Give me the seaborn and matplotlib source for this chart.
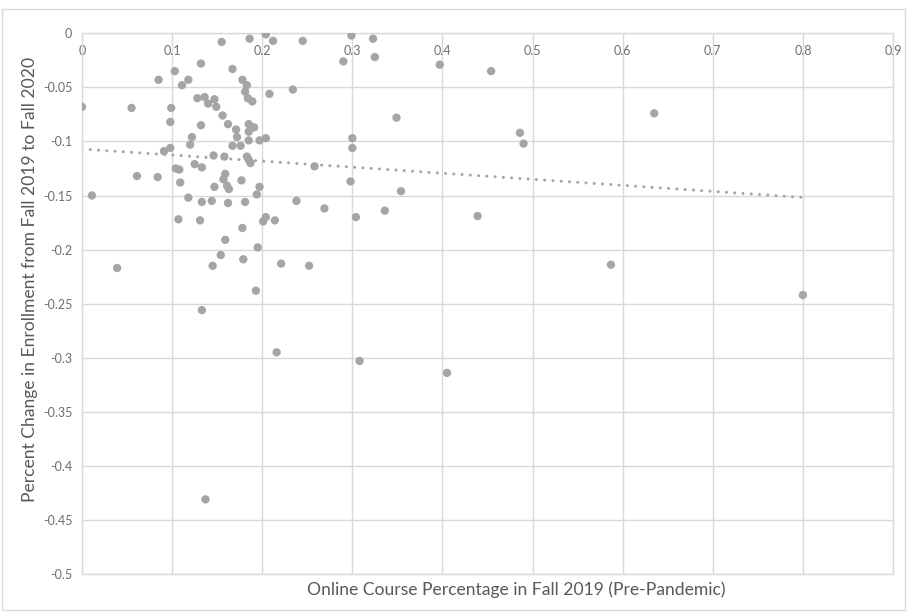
import matplotlib
matplotlib.use('Agg')
import matplotlib.pyplot as plt
import seaborn as sns
import pandas as pd
import numpy as np
from matplotlib.patches import Rectangle

# Values
online_pct = [
    0.000, 0.011, 0.039, 0.055, 0.061, 0.084, 0.085, 0.091, 0.098, 0.098,
    0.099, 0.103, 0.104, 0.108, 0.107, 0.109, 0.111, 0.118, 0.118, 0.122,
    0.120, 0.125, 0.128, 0.132, 0.132, 0.133, 0.133, 0.131, 0.136, 0.140,
    0.144, 0.146, 0.147, 0.147, 0.149, 0.155, 0.156, 0.158, 0.159, 0.157,
    0.161, 0.163, 0.162, 0.162, 0.167, 0.171, 0.172, 0.167, 0.176, 0.177,
    0.178, 0.181, 0.181, 0.183, 0.184, 0.186, 0.185, 0.185, 0.191, 0.185,
    0.189, 0.183, 0.185, 0.187, 0.194, 0.197, 0.197, 0.204, 0.204, 0.208,
    0.212, 0.234, 0.238, 0.245, 0.204, 0.201, 0.214, 0.178, 0.159, 0.195,
    0.154, 0.179, 0.145, 0.221, 0.193, 0.133, 0.216, 0.252, 0.299, 0.323,
    0.290, 0.325, 0.397, 0.454, 0.349, 0.486, 0.490, 0.300, 0.300, 0.258,
    0.298, 0.354, 0.269, 0.304, 0.336, 0.439, 0.308, 0.405, 0.635, 0.587,
    0.800, 0.137,
]
enroll_change = [
    -0.068, -0.150, -0.217, -0.069, -0.132, -0.133, -0.043, -0.109, -0.106, -0.082,
    -0.069, -0.035, -0.125, -0.126, -0.172, -0.138, -0.048, -0.043, -0.152, -0.096,
    -0.103, -0.121, -0.060, -0.028, -0.085, -0.124, -0.156, -0.173, -0.059, -0.065,
    -0.155, -0.113, -0.061, -0.142, -0.068, -0.008, -0.076, -0.114, -0.130, -0.135,
    -0.141, -0.144, -0.084, -0.157, -0.033, -0.089, -0.096, -0.104, -0.104, -0.136,
    -0.043, -0.156, -0.054, -0.048, -0.060, -0.005, -0.084, -0.091, -0.087, -0.099,
    -0.063, -0.114, -0.117, -0.120, -0.149, -0.142, -0.099, -0.097, -0.001, -0.056,
    -0.007, -0.052, -0.155, -0.007, -0.170, -0.174, -0.173, -0.180, -0.191, -0.198,
    -0.205, -0.209, -0.215, -0.213, -0.238, -0.256, -0.295, -0.215, -0.002, -0.005,
    -0.026, -0.022, -0.029, -0.035, -0.078, -0.092, -0.102, -0.097, -0.106, -0.123,
    -0.137, -0.146, -0.162, -0.170, -0.164, -0.169, -0.303, -0.314, -0.074, -0.214,
    -0.242, -0.431,
]

x_ticks = np.round(np.arange(0, 0.91, 0.1), 1)
y_ticks = np.round(np.arange(-0.5, 0.001, 0.05), 2)
x_tick_labels = ['0'] + [f'{v:g}' for v in x_ticks[1:]]
y_tick_labels = ['0' if v == 0 else f'{v:g}' for v in y_ticks]

df = pd.DataFrame({'online': online_pct, 'change': enroll_change})

sns.set_theme(style='white')
plt.rcParams['font.family'] = ['Lato', 'DejaVu Sans']

point_color = '#A5A5A5'
text_color = '#595959'
tick_color = '#6E6E6E'
grid_color = '#D9D9D9'

fig = plt.figure(figsize=(9.09, 6.12), dpi=100)
ax = fig.add_axes([0.0902, 0.0621, 0.8922, 0.8835])

# Linear trendline across the data range, dotted like the original
sns.regplot(data=df, x='online', y='change', scatter=False, ci=None, ax=ax,
            line_kws={'color': point_color, 'linewidth': 2.2,
                      'linestyle': (0, (0.01, 2.7)), 'dash_capstyle': 'round'})
sns.scatterplot(data=df, x='online', y='change', ax=ax, color=point_color,
                s=36, edgecolor='none', zorder=3)

ax.set_xlim(0, 0.9)
ax.set_ylim(-0.5, 0)
ax.set_xticks(x_ticks)
ax.set_xticklabels(x_tick_labels)
ax.set_yticks(y_ticks)
ax.set_yticklabels(y_tick_labels)
ax.grid(True, color=grid_color, linewidth=1)
ax.set_axisbelow(True)
for s in ax.spines.values():
    s.set_color(grid_color)
    s.set_linewidth(1)

# x axis crosses at y=0, so its labels sit just under the top edge
ax.tick_params(axis='x', bottom=False, top=False, labelbottom=False, labeltop=True,
               pad=-17, labelsize=9, labelcolor=tick_color, length=0)
ax.tick_params(axis='y', left=False, labelsize=9, labelcolor=tick_color, pad=7, length=0)

ax.set_xlabel('')
ax.set_ylabel('')
fig.text(516 / 909, 1 - 590 / 612, 'Online Course Percentage in Fall 2019 (Pre-Pandemic)',
         ha='center', va='center', fontsize=12.6, color=text_color)
fig.text(30 / 909, 1 - 279 / 612, 'Percent Change in Enrollment from Fall 2019 to Fall 2020',
         ha='center', va='center', rotation=90, fontsize=12.6, color=text_color)

# light chart-area border
fig.patches.append(Rectangle((0.002, 0.004), 0.994, 0.982, transform=fig.transFigure,
                             fill=False, edgecolor=grid_color, linewidth=1))

fig.savefig('out.png', dpi=100)
